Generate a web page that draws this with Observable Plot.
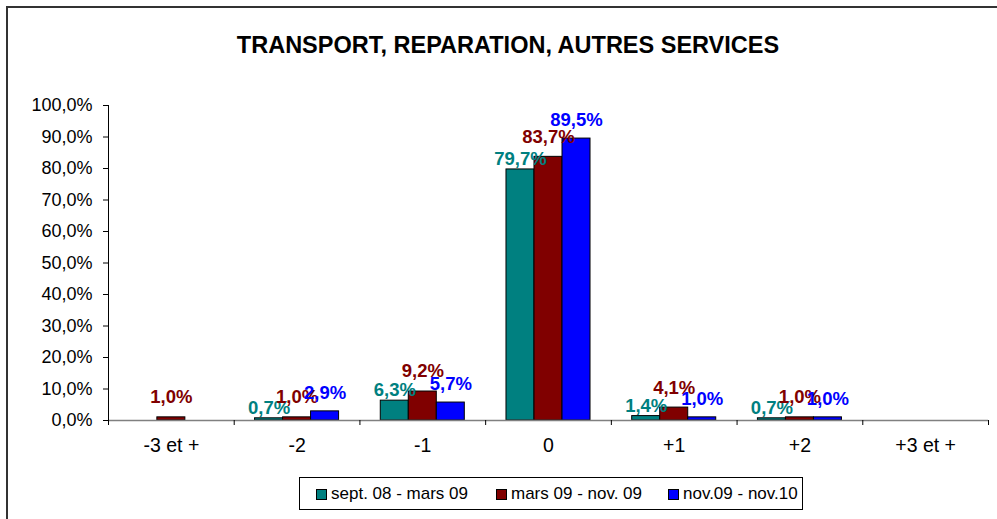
<!DOCTYPE html>
<html><head><meta charset="utf-8">
<script src="https://cdn.jsdelivr.net/npm/d3@7"></script>
<script src="https://cdn.jsdelivr.net/npm/@observablehq/plot@0.6"></script>
<style>
body{margin:0;background:#fff;font-family:"Liberation Sans",Arial,sans-serif;}
#wrap{position:relative;width:997px;height:519px;overflow:hidden;background:#fff;}
#border{position:absolute;left:6px;top:6px;width:1100px;height:700px;border-left:2px solid #333;border-top:2px solid #333;}
#title{position:absolute;left:0;top:30px;width:1016px;text-align:center;font-size:23.5px;line-height:30px;font-weight:bold;color:#000;}
#chart{position:absolute;left:0;top:70px;}
#legend{position:absolute;left:299px;top:477px;width:502px;height:31px;border:1px solid #000;background:#fff;}
.item{position:absolute;top:0;height:31px;line-height:31px;font-size:17px;color:#000;white-space:nowrap;}
.sw{display:inline-block;width:9px;height:9px;border:1px solid #000;margin-right:4px;vertical-align:-1px;}
</style>
</head><body>
<div id="wrap">
  <div id="border"></div>
  <div id="title">TRANSPORT, REPARATION, AUTRES SERVICES</div>
  <div id="chart"></div>
  <div id="legend"></div>
</div>
<script>
const categories = ["-3 et +", "-2", "-1", "0", "+1", "+2", "+3 et +"];
const seriesNames = ["sept. 08 - mars 09", "mars 09 - nov. 09", "nov.09 - nov.10"];
const sept08_mars09 = [null, 0.7, 6.3, 79.7, 1.4, 0.7, null];
const mars09_nov09 = [1.0, 1.0, 9.2, 83.7, 4.1, 1.0, null];
const nov09_nov10 = [null, 2.9, 5.7, 89.5, 1.0, 1.0, null];
const yTicks = [0, 10, 20, 30, 40, 50, 60, 70, 80, 90, 100];
const colors = ["#008080", "#800000", "#0000FF"];

const seriesValues = [sept08_mars09, mars09_nov09, nov09_nov10];
const rows = [];
seriesValues.forEach((vals, s) => vals.forEach((v, i) => {
  if (v != null) rows.push({i, s, name: seriesNames[s], v: v / 100});
}));

const barW = 0.2228; // bar width as a fraction of one category step
const labelLift = [4.5, 14, 12]; // per-series label gap above the bar (px), style only
const fmtPct = v => (v * 100).toFixed(1).replace(".", ",") + "%";
const boundaries = categories.map((_, i) => i - 0.5).concat([categories.length - 0.5]);

const chart = Plot.plot({
  width: 997,
  height: 400,
  marginLeft: 108,
  marginRight: 9,
  marginTop: 35,
  marginBottom: 50,
  style: {fontFamily: '"Liberation Sans", Arial, sans-serif', fontSize: "17px", color: "#000", background: "transparent"},
  x: {type: "linear", domain: [-0.5, categories.length - 0.5], axis: null},
  y: {domain: [0, 1], axis: null},
  color: {domain: seriesNames, range: colors},
  marks: [
    Plot.rectY(rows, {
      x1: d => d.i + (d.s - 1.5) * barW,
      x2: d => d.i + (d.s - 0.5) * barW,
      y1: 0, y2: "v",
      fill: "name", stroke: "#000", strokeWidth: 1
    }),
    Plot.ruleY([0], {stroke: "#808080", strokeWidth: 1.5}),
    Plot.ruleX([-0.5], {y1: 0, y2: 1, stroke: "#000", strokeWidth: 1}),
    Plot.axisY({ticks: yTicks.map(t => t / 100), tickSize: 5, tickPadding: 11, tickFormat: fmtPct, fontSize: 18, label: null}),
    Plot.axisX({ticks: boundaries, tickSize: 5, tickFormat: () => "", stroke: "#000", label: null}),
    Plot.axisX({ticks: categories.map((_, i) => i), tickSize: 0, tickPadding: 18, tickFormat: i => categories[i], fontSize: 19.5, label: null}),
    ...labelLift.map((lift, s) => Plot.text(rows.filter(d => d.s === s), {
      x: d => d.i + (d.s - 1) * barW,
      y: "v",
      text: d => fmtPct(d.v),
      fill: colors[s],
      fontWeight: "bold",
      fontSize: 18.5,
      lineAnchor: "middle",
      dy: -lift - 6
    }))
  ]
});
document.getElementById("chart").appendChild(chart);

const legend = document.getElementById("legend");
const itemLefts = [16, 196, 368];
seriesNames.forEach((name, s) => {
  const it = document.createElement("div");
  it.className = "item";
  it.style.left = itemLefts[s] + "px";
  const sw = document.createElement("span");
  sw.className = "sw";
  sw.style.background = colors[s];
  it.appendChild(sw);
  it.appendChild(document.createTextNode(name));
  legend.appendChild(it);
});
</script>
</body></html>
